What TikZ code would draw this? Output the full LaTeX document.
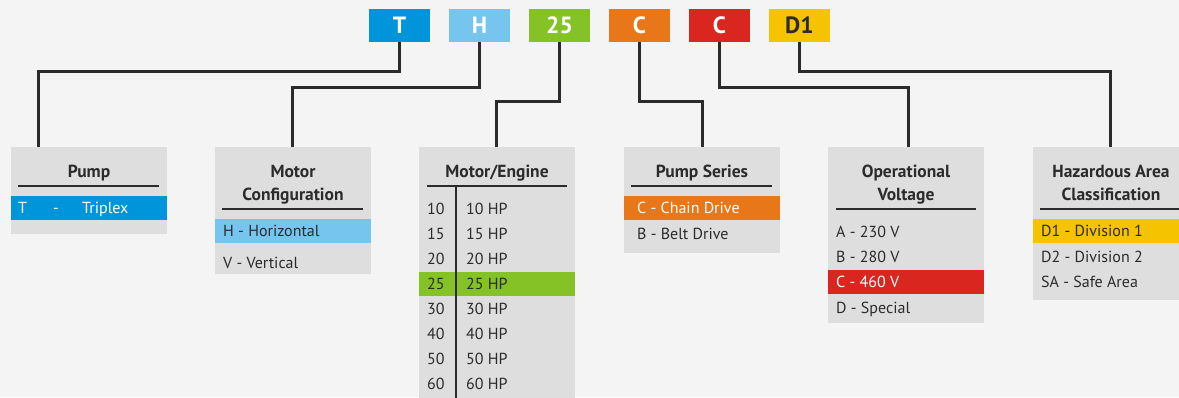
\documentclass[tikz,border=0pt]{standalone}
\usepackage{fontspec}
\setmainfont{PT Sans}
\usetikzlibrary{calc}
\definecolor{bgc}{HTML}{F4F4F4}
\definecolor{panelc}{HTML}{DEDEDE}
\definecolor{ink}{HTML}{2B2B2B}
\definecolor{cT}{HTML}{0095DB}
\definecolor{cH}{HTML}{75C5EF}
\definecolor{cM}{HTML}{84C225}
\definecolor{cS}{HTML}{E8771A}
\definecolor{cV}{HTML}{D9261F}
\definecolor{cD}{HTML}{F6C300}
\tikzset{
  codebox/.style={minimum width=61pt, minimum height=33pt, inner sep=0pt,
    font=\fontsize{23.5}{23.5}\selectfont\bfseries, text=white},
  panel/.style={fill=panelc, anchor=north west, minimum width=156pt, inner sep=0pt},
  band/.style={anchor=north west, minimum width=156pt, minimum height=24pt, inner sep=0pt},
  conn/.style={line width=3pt, draw=ink},
  rulel/.style={line width=1.5pt, draw=ink},
  ttl/.style={font=\fontsize{17.5}{17.5}\selectfont\bfseries, text=ink, anchor=base, inner sep=0pt},
  item/.style={font=\fontsize{16}{16}\selectfont, text=ink, anchor=base west, inner sep=0pt},
  itemw/.style={item, text=white},
}
\begin{document}
\begin{tikzpicture}[x=1pt,y=-1pt]
\fill[bgc] (0,0) rectangle (1179,397);
\useasboundingbox (0,0) rectangle (1179,397);
\begin{scope}
\clip (0,0) rectangle (1179,397);
% code boxes
\node[codebox, fill=cT] (kT) at (399.5,25.5) {T};
\node[codebox, fill=cH] (kH) at (479.5,25.5) {H};
\node[codebox, fill=cM] (kM) at (559.5,25.5) {25};
\node[codebox, fill=cS] (kS) at (639.5,25.5) {C};
\node[codebox, fill=cV] (kV) at (719.5,25.5) {C};
\node[codebox, fill=cD, text=ink] (kD) at (799.5,25.5) {D1};

% panels
\node[panel, minimum height=87pt] (pump) at (11,147) {};
\node[panel, minimum height=127pt] (motor) at (215,147) {};
\node[panel, minimum height=260pt] (engine) at (419,147) {};
\node[panel, minimum height=106pt] (series) at (624,147) {};
\node[panel, minimum height=176pt] (volt) at (828,147) {};
\node[panel, minimum height=153pt] (haz) at (1033,147) {};

% highlight bands
\node[band, fill=cT] (bandT) at (11,196) {};
\node[band, fill=cH] (bandH) at (215,219) {};
\node[band, fill=cM] (bandM) at (419,272) {};
\node[band, fill=cS] (bandS) at (624,196) {};
\node[band, fill=cV] (bandV) at (828,270) {};
\node[band, fill=cD] (bandD) at (1033,219) {};

% connector landing points
\coordinate (pT) at (38,147);
\coordinate (pH) at (292,147);
\coordinate (pM) at (496,147);
\coordinate (pS) at (702,147);
\coordinate (pV) at (908,147);
\coordinate (pD) at (1110,147);

\draw[conn] (kT.south) -- ++(0,29) -| (pT);
\draw[conn] (kH.south) -- ++(0,45) -| (pH);
\draw[conn] (kM.south) -- ++(0,59) -| (pM);
\draw[conn] (kS.south) -- ++(0,59) -| (pS);
\draw[conn] (kV.south) -- ++(0,45) -| (pV);
\draw[conn] (kD.south) -- ++(0,29) -| (pD);

% titles
\node[ttl] (tPump) at (89,177) {Pump};
\node[ttl] (tMot1) at (293,177) {Motor};
\node[ttl] (tMot2) at (293,200) {Configuration};
\node[ttl] (tEng) at (497,177) {Motor/Engine};
\node[ttl] (tSer) at (702,177) {Pump Series};
\node[ttl] (tVol1) at (906,177) {Operational};
\node[ttl] (tVol2) at (906,200) {Voltage};
\node[ttl] (tHaz1) at (1111,177) {Hazardous Area};
\node[ttl] (tHaz2) at (1111,200) {Classification};

% rules
\draw[rulel] (18,186) -- (159,186);
\draw[rulel] (222,209) -- (363,209);
\draw[rulel] (427,186) -- (567,186);
\draw[rulel] (631,186) -- (772,186);
\draw[rulel] (836,209) -- (976,209);
\draw[rulel] (1040,209) -- (1181,209);
\draw[rulel] (456,186) -- (456,400);

% pump
\node[itemw] (iT) at (18,213.5) {\makebox[35pt][l]{T}\makebox[29pt][l]{-}Triplex};
% motor configuration
\node[item] (iH) at (223,236.5) {H - Horizontal};
\node[item] (iV) at (223,268) {V - Vertical};
% motor/engine
\foreach \n/\yy in {10/214,15/239,20/264,25/289.5,30/314.5,40/339.5,50/364.5,60/389.5}{
  \node[item] (n\n) at (427,\yy) {\n};
  \node[item] (h\n) at (466,\yy) {\n\ HP};
}
% pump series
\node[itemw] (iC) at (637,213.5) {C - Chain Drive};
\node[item] (iB) at (637,239) {B - Belt Drive};
% voltage
\node[item] (vA) at (836,237) {A - 230 V};
\node[item] (vB) at (836,262) {B - 280 V};
\node[itemw] (vC) at (836,287.5) {C - 460 V};
\node[item] (vD) at (836,313) {D - Special};
% hazardous
\node[item] (d1) at (1041,236.5) {D1 - Division 1};
\node[item] (d2) at (1041,262) {D2 - Division 2};
\node[item] (sa) at (1041,287.5) {SA - Safe Area};
\end{scope}
\end{tikzpicture}
\end{document}
